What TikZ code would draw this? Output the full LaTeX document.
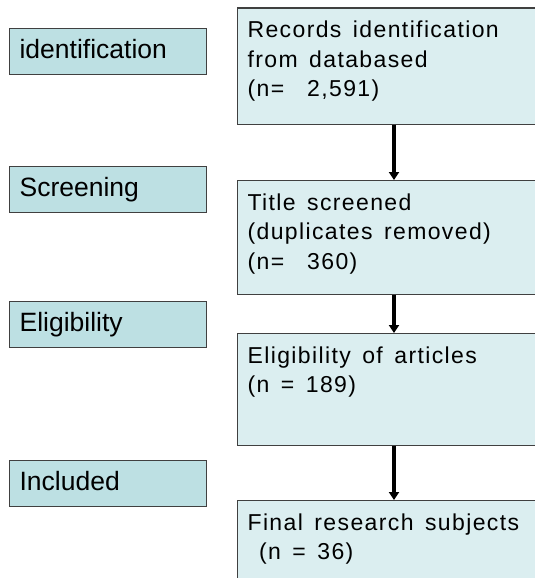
\documentclass[tikz,border=0pt]{standalone}
\usepackage{fontspec}
\setmainfont{Liberation Sans}
\newfontfamily\boxfont[LetterSpace=6]{Liberation Sans}
\newcommand\myWideSpace{\spaceskip=11.5pt plus 2pt minus 1pt\relax}
\usetikzlibrary{arrows.meta}
\definecolor{lblfill}{HTML}{BDE0E3}
\definecolor{boxfill}{HTML}{DBEEF0}
\definecolor{edge}{HTML}{404040}
\tikzset{
  lbl/.style={draw=edge, line width=1.2pt, fill=lblfill, anchor=north west,
    inner xsep=10pt, inner ysep=0pt, text width=177pt, align=left,
    text height=30pt, text depth=16pt,
    font=\fontsize{26.5}{30}\selectfont},
  rbox/.style={draw=edge, line width=1.2pt, fill=boxfill, anchor=north west,
    inner xsep=10pt, inner ysep=0pt, text width=290pt, align=left,
    text height=29.5pt, font=\boxfont\fontsize{23}{29.5}\selectfont,
    execute at begin node=\myWideSpace},
  arr/.style={line width=3.2pt, -{Triangle[width=10pt,length=8pt]}}
}
\begin{document}
\begin{tikzpicture}[x=1pt,y=-1pt]
\useasboundingbox (0,0) rectangle (535,578);
\clip (0,0) rectangle (535,578);
\node[lbl] (l1) at (9,28) {identification};
\node[lbl] (l2) at (9,166) {Screening};
\node[lbl] (l3) at (9,301) {Eligibility};
\node[lbl] (l4) at (9,459.5) {Included};
\node[rbox, text depth=86.5pt] (b1) at (237,7.5) {Records identification\\from databased\\(n=~~2,591)};
\node[rbox, text depth=84.5pt] (b2) at (237,180) {Title screened\\(duplicates removed)\\(n=~~360)};
\node[rbox, text depth=82.5pt] (b3) at (237,333) {Eligibility of articles\\(n = 189)};
\node[rbox, text depth=90pt] (b4) at (237,500) {Final research subjects\\~(n = 36)};
\coordinate (ax) at (394,0);
\draw[arr] (b1.south -| ax) -- (b2.north -| ax);
\draw[arr] (b2.south -| ax) -- (b3.north -| ax);
\draw[arr] (b3.south -| ax) -- (b4.north -| ax);
\end{tikzpicture}
\end{document}
